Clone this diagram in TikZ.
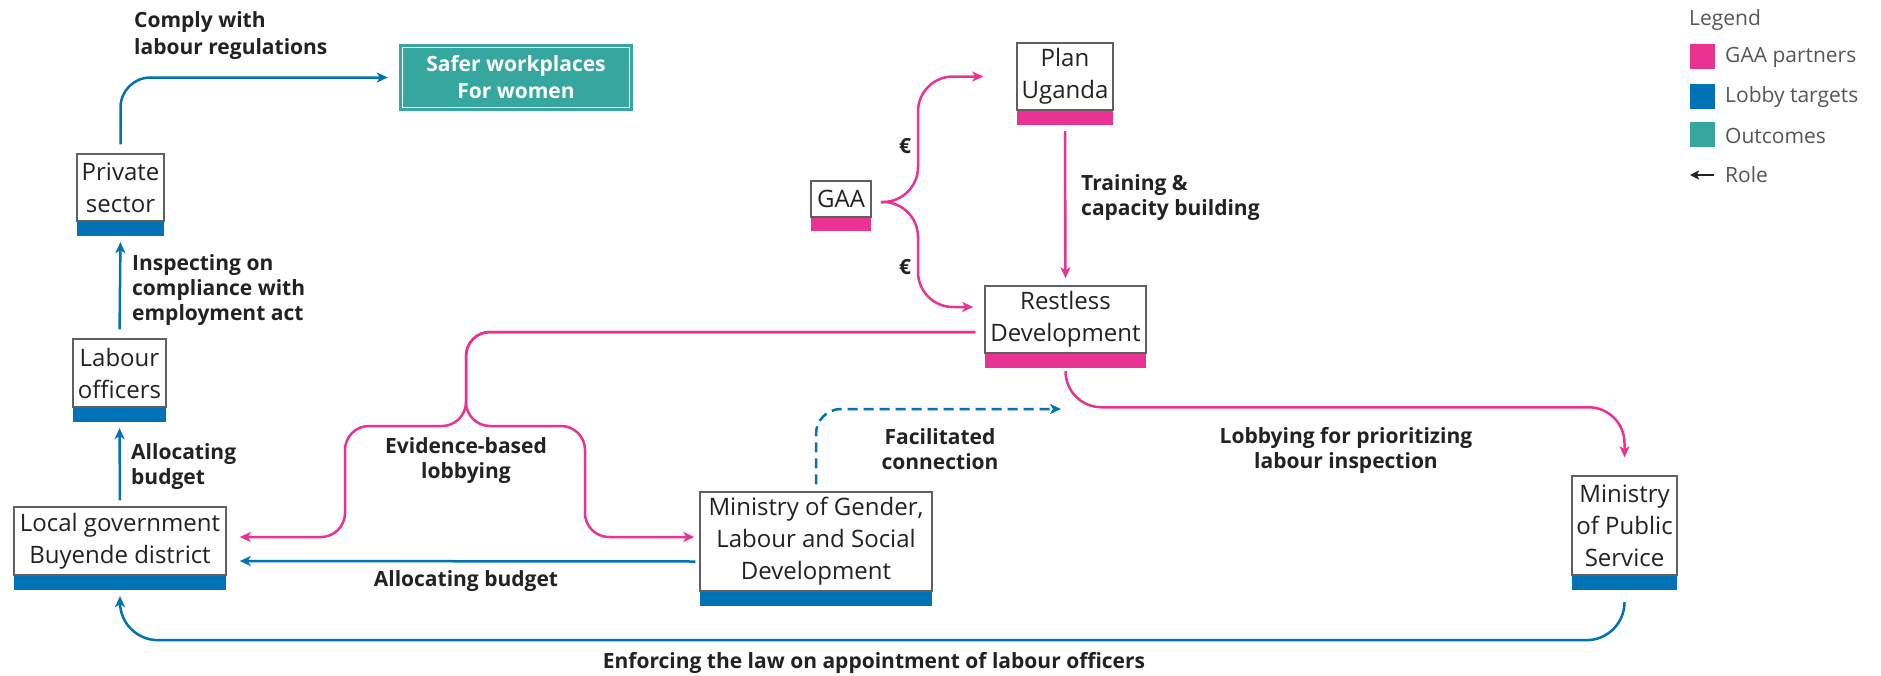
\documentclass[tikz,border=0pt]{standalone}
\usepackage{fontspec}
\setmainfont{Open Sans}
\usetikzlibrary{arrows.meta,calc}
\definecolor{gaapink}{HTML}{E93291}
\definecolor{lobblue}{HTML}{0072B6}
\definecolor{outteal}{HTML}{36A79E}
\definecolor{boxgray}{HTML}{606060}
\definecolor{txt}{HTML}{222222}
\definecolor{leggray}{HTML}{555555}
\begin{document}
\begin{tikzpicture}[x=1pt,y=-1pt,
  actor/.style={draw=boxgray, line width=1.5pt, fill=white, align=center, inner sep=0pt, font=\fontsize{24}{32}\selectfont, text=txt},
  barnode/.style={inner sep=0pt, minimum height=14pt, anchor=north},
  conn/.style={line width=2.5pt, -{Stealth[length=11pt,width=10pt,inset=3pt]}},
  lbl/.style={font=\bfseries\fontsize{21}{25}\selectfont, text=txt, inner sep=0pt},
  legtxt/.style={font=\fontsize{21}{25}\selectfont, text=leggray, anchor=west, inner sep=0pt},
  legsq/.style={inner sep=0pt, minimum size=25pt, anchor=north west}
]
\useasboundingbox (0,0) rectangle (1881,675);

% actors
\node[actor, minimum width=87pt, minimum height=67pt] (private) at (120.5,187.5) {Private\\sector};
\node[barnode, fill=lobblue, minimum width=87pt] (privateb) at (private.south) {};
\node[actor, minimum width=93pt, minimum height=68pt] (labour) at (119.5,373) {Labour\\officers};
\node[barnode, fill=lobblue, minimum width=93pt] (labourb) at (labour.south) {};
\node[actor, minimum width=212pt, minimum height=68pt] (lg) at (120,541) {Local government\\Buyende district};
\node[barnode, fill=lobblue, minimum width=212pt] (lgb) at (lg.south) {};
\node[actor, minimum width=232pt, minimum height=99pt] (mog) at (816,541.5) {Ministry of Gender,\\Labour and Social\\Development};
\node[barnode, fill=lobblue, minimum width=232pt] (mogb) at (mog.south) {};
\node[actor, minimum width=105pt, minimum height=99pt] (mps) at (1624.5,525.5) {Ministry\\of Public\\Service};
\node[barnode, fill=lobblue, minimum width=105pt] (mpsb) at (mps.south) {};
\node[actor, minimum width=60pt, minimum height=36pt] (gaa) at (841,199) {GAA};
\node[barnode, fill=gaapink, minimum width=60pt, minimum height=13pt] (gaab) at (gaa.south) {};
\node[actor, minimum width=96pt, minimum height=67pt] (plan) at (1065,76.5) {Plan\\Uganda};
\node[barnode, fill=gaapink, minimum width=96pt] (planb) at (plan.south) {};
\node[actor, minimum width=161pt, minimum height=67pt] (restless) at (1065.5,319.5) {Restless\\Development};
\node[barnode, fill=gaapink, minimum width=161pt] (restlessb) at (restless.south) {};
\node[fill=outteal, minimum width=234pt, minimum height=67pt, inner sep=0pt, align=center, text=white, font=\bfseries\fontsize{21}{27}\selectfont] (safer) at (516,77.5) {Safer workplaces\\For women};
\draw[white, line width=1pt] ($(safer.north west)+(4,4)$) rectangle ($(safer.south east)+(-4,-4)$);

% connectors
\draw[conn, lobblue, rounded corners=30pt, shorten <=9pt, shorten >=11pt] (private.north) |- (safer.west);
\draw[conn, lobblue, shorten <=9pt, shorten >=6pt] (labour.north) -- (privateb.south);
\draw[conn, lobblue, shorten <=6pt, shorten >=6pt] (lg.north) -- (labourb.south);
\draw[conn, lobblue, shorten <=4pt, shorten >=13pt] ($(mog.west)+(0,20)$) -- ($(lg.east)+(0,20)$);

\draw[conn, gaapink, rounded corners=24pt, shorten <=9pt, shorten >=13pt] ($(restless.west)+(0,12.5)$) -| (466,426) -- (345,426) |- ($(lg.east)+(0,-4)$);
\draw[conn, gaapink, rounded corners=24pt, shorten <=9pt, shorten >=5pt] ($(restless.west)+(0,12.5)$) -| (466,426) -- (585,426) |- ($(mog.west)+(0,-4.5)$);

\draw[conn, gaapink, rounded corners=35pt, shorten <=9pt, shorten >=33pt] ($(gaa.east)+(0,3)$) -- (918,202) |- (plan.west);
\draw[conn, gaapink, rounded corners=35pt, shorten <=9pt, shorten >=11pt] ($(gaa.east)+(0,3)$) -- (918,202) |- ($(restless.west)+(0,-12.5)$);
\draw[conn, gaapink, shorten <=6pt, shorten >=7pt] (planb.south) -- (restless.north);
\draw[conn, gaapink, rounded corners=36pt, shorten <=5pt, shorten >=18pt] (restlessb.south) |- ($(mps.north)+(0,-68)$) -- (mps.north);

\coordinate (fcend) at (1061,409);
\draw[conn, lobblue, dash pattern=on 10pt off 6pt, rounded corners=25pt, shorten <=7pt] (mog.north) |- (fcend);
\draw[conn, lobblue, rounded corners=38pt, shorten <=12pt, shorten >=6pt] (mpsb.south) |- ($(lgb.south)+(0,50)$) -- (lgb.south);

% labels
\node[lbl, align=left, anchor=west, font=\bfseries\fontsize{21}{27}\selectfont] (lcomply) at (134,36) {Comply with\\labour regulations};
\node[lbl, align=left, anchor=west] (linsp) at (132,290) {Inspecting on\\compliance with\\employment act};
\node[lbl, align=left, anchor=west] (lalloc1) at (131,467) {Allocating\\budget};
\node[lbl, align=center] (levid) at (466,461) {Evidence-based\\lobbying};
\node[lbl] (lalloc2) at (466,581) {Allocating budget};
\node[lbl, align=center] (lfac) at (940,449) {Facilitated\\connection};
\node[lbl, align=center] (llob) at (1346,450) {Lobbying for prioritizing\\labour inspection};
\node[lbl] (lenf) at (874,663) {Enforcing the law on appointment of labour officers};
\node[lbl, align=left, anchor=west] (ltrain) at (1081,198) {Training \&\\capacity building};
\node[lbl] (leur1) at (905,146) {€};
\node[lbl] (leur2) at (905,267) {€};

% legend
\node[legtxt] (legt) at (1689,20) {Legend};
\node[legsq, fill=gaapink] (sq1) at (1690,44) {};
\node[legsq, fill=lobblue] (sq2) at (1690,84) {};
\node[legsq, fill=outteal] (sq3) at (1690,122) {};
\node[legtxt] (lg1) at (1725,57) {GAA partners};
\node[legtxt] (lg2) at (1725,97) {Lobby targets};
\node[legtxt] (lg3) at (1725,136) {Outcomes};
\node[legtxt] (lg4) at (1725,175) {Role};
\coordinate (ra) at (1714,175);
\coordinate (rb) at (1690,175);
\draw[line width=2pt, txt, -{Stealth[length=9pt,width=9pt,inset=2pt]}] (ra) -- (rb);
\end{tikzpicture}
\end{document}
